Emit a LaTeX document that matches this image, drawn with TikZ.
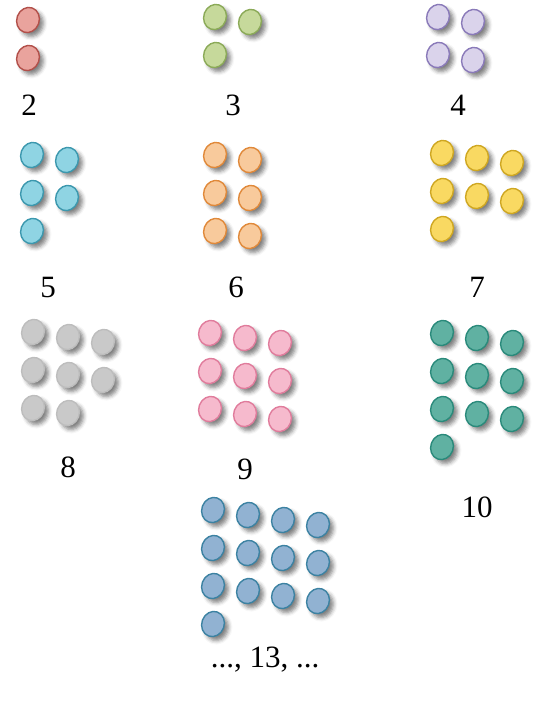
\documentclass[tikz,border=0pt]{standalone}
\usepackage{fontspec}
\setmainfont{Liberation Serif}
\usetikzlibrary{shapes.geometric,shadows.blur}

% disk colours, one pair per group
\definecolor{fill2}{HTML}{E9A39D}\definecolor{line2}{HTML}{B2504A}
\definecolor{fill3}{HTML}{C6D99B}\definecolor{line3}{HTML}{8BAA58}
\definecolor{fill4}{HTML}{DAD3EB}\definecolor{line4}{HTML}{8A7AB9}
\definecolor{fill5}{HTML}{8FD4E3}\definecolor{line5}{HTML}{3C98AE}
\definecolor{fill6}{HTML}{F8CA9C}\definecolor{line6}{HTML}{E0893A}
\definecolor{fill7}{HTML}{F9D962}\definecolor{line7}{HTML}{CFA722}
\definecolor{fill8}{HTML}{C9C9C9}\definecolor{line8}{HTML}{BDBDBD}
\definecolor{fill9}{HTML}{F6BACD}\definecolor{line9}{HTML}{E07C9C}
\definecolor{fill10}{HTML}{60B1A2}\definecolor{line10}{HTML}{2A8A7B}
\definecolor{fill13}{HTML}{91B2D2}\definecolor{line13}{HTML}{3C82A2}

\begin{document}
\begin{tikzpicture}[
    x=1pt, y=-1pt,
    dot/.style={ellipse, minimum width=22.5pt, minimum height=25.5pt, inner sep=0pt,
        rotate=-20, line width=1.4pt,
        blur shadow={shadow xshift=4pt, shadow yshift=-4pt, shadow opacity=50, shadow blur radius=4pt}},
    numlabel/.style={font=\fontsize{31}{33}\selectfont, inner sep=0pt}
]
\useasboundingbox (0,0) rectangle (544,706);

% groups: count / columns / first disk
\foreach \n/\cols/\gx/\gy in {2/1/28/20, 3/2/215/17, 4/2/438/17,
        5/2/32/155, 6/2/215/155, 7/3/442/153,
        8/3/33/332, 9/3/210/333, 10/3/442/333, 13/4/213/510}{
  \foreach \i in {1,...,\n}{
    \pgfmathtruncatemacro{\rw}{(\i-1)/\cols}
    \pgfmathtruncatemacro{\cl}{\i-1-\rw*\cols}
    \node[dot, fill=fill\n, draw=line\n] (d\n-\i) at (\gx+35*\cl, \gy+38*\rw+5*\cl) {};
  }
}

% numbers under the groups
\node[numlabel] (l2) at (29,105) {2};
\node[numlabel] (l3) at (233,105) {3};
\node[numlabel] (l4) at (458,105) {4};
\node[numlabel] (l5) at (48,287) {5};
\node[numlabel] (l6) at (236,287) {6};
\node[numlabel] (l7) at (477,287) {7};
\node[numlabel] (l8) at (68,467) {8};
\node[numlabel] (l9) at (245,469) {9};
\node[numlabel] (l10) at (477,507) {10};
\node[numlabel] (l13) at (265,660) {..., 13, ...};

\end{tikzpicture}
\end{document}
